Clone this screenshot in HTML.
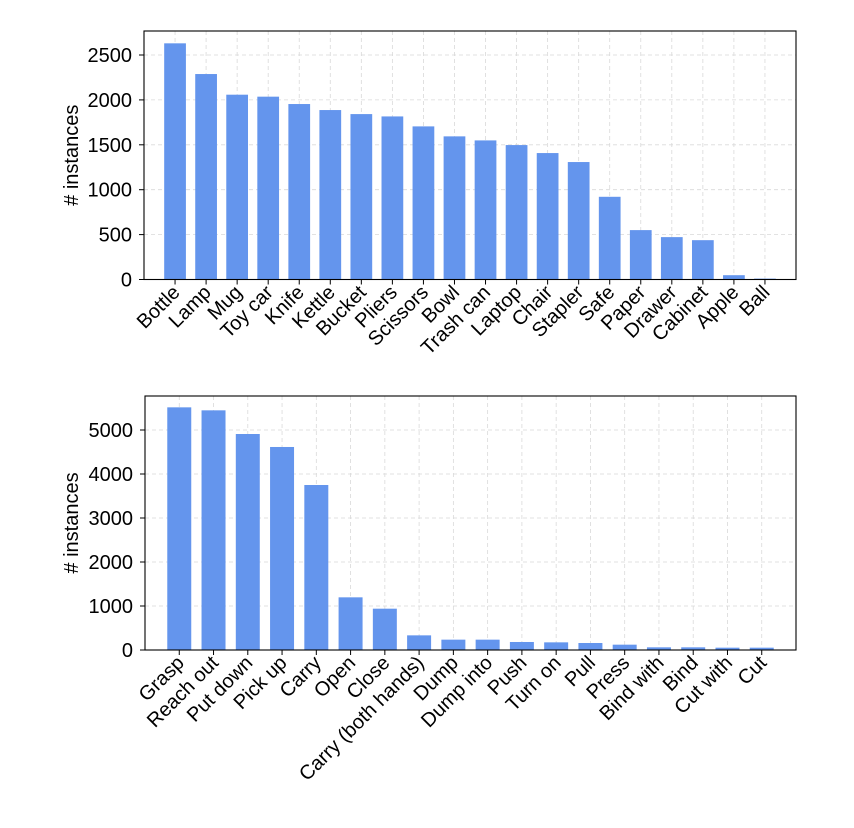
<!DOCTYPE html>
<html><head><meta charset="utf-8"><style>
html,body{margin:0;padding:0;background:#fff;}
svg{display:block;font-family:"Liberation Sans",Arial,sans-serif;}
</style></head><body>
<svg id="chart" width="854" height="828" xmlns="http://www.w3.org/2000/svg"></svg>
<script>
const objCategories=["Bottle","Lamp","Mug","Toy car","Knife","Kettle","Bucket","Pliers","Scissors","Bowl","Trash can","Laptop","Chair","Stapler","Safe","Paper","Drawer","Cabinet","Apple","Ball"];
const objValues=[2630,2288,2058,2036,1954,1887,1842,1816,1705,1594,1549,1497,1408,1308,921,550,472,438,48,10];
const objTicks=[0,500,1000,1500,2000,2500];
const actCategories=["Grasp","Reach out","Put down","Pick up","Carry","Open","Close","Carry (both hands)","Dump","Dump into","Push","Turn on","Pull","Press","Bind with","Bind","Cut with","Cut"];
const actValues=[5515,5447,4909,4614,3750,1197,939,333,235,235,182,174,159,121,61,61,53,53];
const actTicks=[0,1000,2000,3000,4000,5000];

const NS="http://www.w3.org/2000/svg";
const svg=document.getElementById('chart');
function mk(tag,attrs,parent){const e=document.createElementNS(NS,tag);for(const k in attrs)e.setAttribute(k,attrs[k]);(parent||svg).appendChild(e);return e;}

function drawPanel(name,cats,vals,ticks,box){
  const g=mk('g',{});
  
  
  const n=cats.length;
  const xmin=-1,xmax=n;
  const xs=i=>box.x0+(i-xmin)/(xmax-xmin)*(box.x1-box.x0);
  const ys=v=>box.y1-(v-box.ymin)/(box.ymax-box.ymin)*(box.y1-box.y0);
  const unit=(box.x1-box.x0)/(xmax-xmin);
  for(let i=0;i<n;i++){
    const gl=mk('line',{x1:xs(i),x2:xs(i),y1:box.y0,y2:box.y1,stroke:'#d9d9d9','stroke-width':0.8,'stroke-dasharray':'4,3'},g);
    
    
  }
  ticks.forEach(t=>{
    const gl=mk('line',{x1:box.x0,x2:box.x1,y1:ys(t),y2:ys(t),stroke:'#d9d9d9','stroke-width':0.8,'stroke-dasharray':'4,3'},g);
    
    
  });
  for(let i=0;i<n;i++){
    const w=unit*0.7;
    const r=mk('rect',{x:xs(i)-w/2,y:ys(vals[i]),width:w,height:ys(0)-ys(vals[i]),fill:'#6495ED'},g);
    
    
  }
  const fr=mk('rect',{x:box.x0,y:box.y0,width:box.x1-box.x0,height:box.y1-box.y0,fill:'none',stroke:'#000','stroke-width':1.1},g);
  
  
  ticks.forEach(t=>{
    mk('line',{x1:box.x0-5,x2:box.x0,y1:ys(t),y2:ys(t),stroke:'#000','stroke-width':1},g);
    const tx=mk('text',{x:box.x0-12,y:ys(t)+7,'text-anchor':'end','font-size':20,fill:'#000'},g);
    tx.textContent=t;
    
    
  });
  for(let i=0;i<n;i++){
    mk('line',{x1:xs(i),x2:xs(i),y1:box.y1,y2:box.y1+5,stroke:'#000','stroke-width':1},g);
    const px=xs(i)+6,py=box.y1+14;
    const tx=mk('text',{x:px,y:py,'text-anchor':'end','font-size':20,fill:'#000',transform:`rotate(-45 ${px} ${py})`},g);
    tx.textContent=cats[i];
    
    
  }
  const yl=mk('text',{x:0,y:0,'text-anchor':'middle','font-size':20,fill:'#000',transform:`translate(78 ${(box.y0+box.y1)/2}) rotate(-90)`},g);
  yl.textContent='# instances';
  
  
}
drawPanel('objects',objCategories,objValues,objTicks,{x0:144,x1:796,y0:31,y1:279.5,ymin:0,ymax:2500*(279.5-31)/(279.5-55)});
drawPanel('actions',actCategories,actValues,actTicks,{x0:145,x1:796,y0:396,y1:650,ymin:0,ymax:5000*(650-396)/(650-430)});
</script>
</body></html>
